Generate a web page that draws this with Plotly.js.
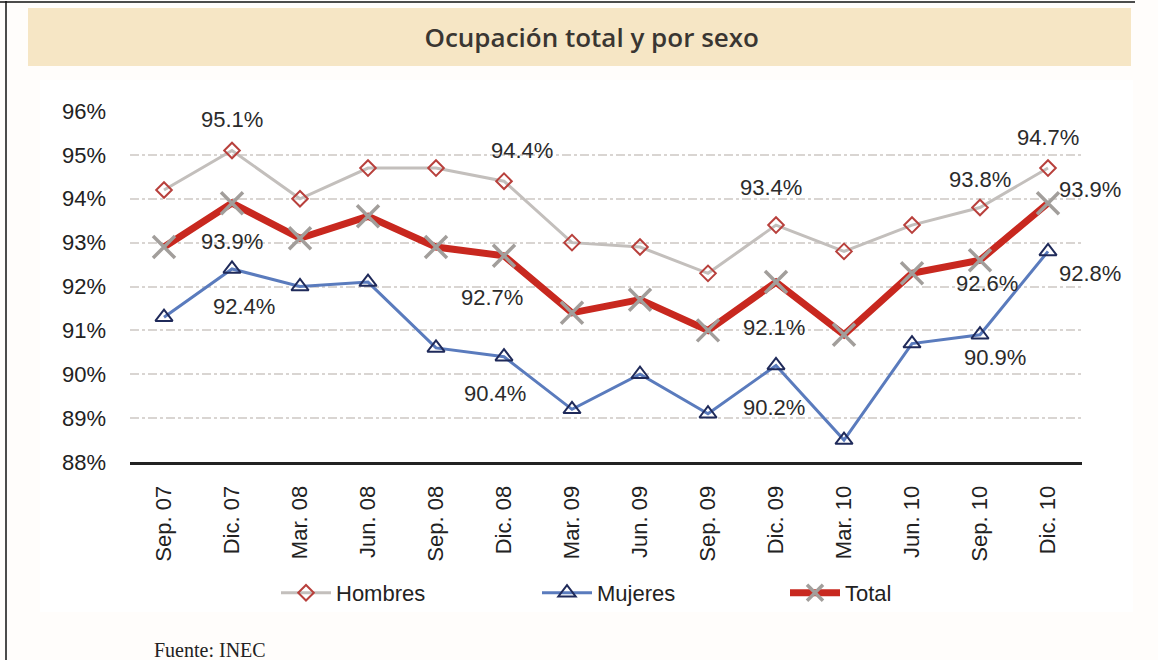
<!DOCTYPE html>
<html>
<head>
<meta charset="utf-8">
<script src="https://cdn.plot.ly/plotly-3.0.1.min.js"></script>
<style>
  html, body { margin: 0; padding: 0; background: #fffdfb; }
  #chart { width: 1158px; height: 660px; }
</style>
</head>
<body>
<div id="chart"></div>
<script>
// ---- data ----
const categories = ["Sep. 07", "Dic. 07", "Mar. 08", "Jun. 08", "Sep. 08", "Dic. 08", "Mar. 09",
                    "Jun. 09", "Sep. 09", "Dic. 09", "Mar. 10", "Jun. 10", "Sep. 10", "Dic. 10"];
const hombres = [94.2, 95.1, 94.0, 94.7, 94.7, 94.4, 93.0, 92.9, 92.3, 93.4, 92.8, 93.4, 93.8, 94.7];
const mujeres = [91.3, 92.4, 92.0, 92.1, 90.6, 90.4, 89.2, 90.0, 89.1, 90.2, 88.5, 90.7, 90.9, 92.8];
const total   = [92.9, 93.9, 93.1, 93.6, 92.9, 92.7, 91.4, 91.7, 91.0, 92.1, 90.9, 92.3, 92.6, 93.9];
const yTicks  = [88, 89, 90, 91, 92, 93, 94, 95, 96];
const yTickText = yTicks.map(v => v + "%");
const seriesNames = ["Hombres", "Mujeres", "Total"];
const titleText = "Ocupación total y por sexo";
const sourceText = "Fuente: INEC";

// which points carry a value label, and where the label sits (pixel offsets)
const labelSpecs = [
  {s: hombres, i: 1,  dx: 0,   dy: 31},
  {s: hombres, i: 5,  dx: 18,  dy: 31},
  {s: hombres, i: 9,  dx: -5,  dy: 38},
  {s: hombres, i: 12, dx: 0,   dy: 28},
  {s: hombres, i: 13, dx: 0,   dy: 31},
  {s: total,   i: 1,  dx: 0,   dy: -38},
  {s: total,   i: 5,  dx: -12, dy: -42},
  {s: total,   i: 9,  dx: -2,  dy: -45},
  {s: total,   i: 12, dx: 7,   dy: -23},
  {s: total,   i: 13, dx: 42,  dy: 14},
  {s: mujeres, i: 1,  dx: 12,  dy: -38},
  {s: mujeres, i: 5,  dx: -9,  dy: -37},
  {s: mujeres, i: 9,  dx: -2,  dy: -42},
  {s: mujeres, i: 12, dx: 15,  dy: -23},
  {s: mujeres, i: 13, dx: 42,  dy: -22}
];

const FONT = "Liberation Sans, Arial, sans-serif";

const traces = [
  {
    name: seriesNames[0], x: categories, y: hombres, type: "scatter", mode: "lines+markers",
    line: {color: "#c3bfbc", width: 3},
    marker: {symbol: "diamond-open", size: 12, color: "#b8403c", line: {width: 2, color: "#b8403c"}},
    cliponaxis: false, legend: "legend"
  },
  {
    name: seriesNames[1], x: categories, y: mujeres, type: "scatter", mode: "lines+markers",
    line: {color: "#5a7bbd", width: 3},
    marker: {symbol: "triangle-up-open", size: 15, color: "#1f2a5a", line: {width: 2, color: "#1f2a5a"}},
    cliponaxis: false, legend: "legend2"
  },
  {
    name: seriesNames[2], x: categories, y: total, type: "scatter", mode: "lines+markers",
    line: {color: "#c8281f", width: 7},
    marker: {symbol: "x-thin-open", size: 22, color: "#a29e9b", line: {width: 3.5, color: "#a29e9b"}},
    cliponaxis: false, legend: "legend3"
  }
];

const annotations = labelSpecs.map(l => ({
  x: categories[l.i], y: l.s[l.i], xref: "x", yref: "y",
  text: l.s[l.i].toFixed(1) + "%", showarrow: false,
  xshift: l.dx, yshift: l.dy, xanchor: "center", yanchor: "middle",
  font: {family: FONT, size: 22, color: "#2b2b2b"}
}));

annotations.push({
  xref: "paper", yref: "paper", x: 0.023, y: -0.535, xanchor: "left", yanchor: "middle",
  text: sourceText, showarrow: false,
  font: {family: "Liberation Serif, Times New Roman, serif", size: 20, color: "#222"}
});

function legendAt(xPix) {
  return {
    orientation: "h", x: (xPix - 130) / 952, xanchor: "left", y: -0.373, yanchor: "middle",
    font: {family: FONT, size: 22, color: "#222"},
    bgcolor: "rgba(0,0,0,0)", itemwidth: 50
  };
}

const layout = {
  width: 1158, height: 660,
  margin: {l: 130, r: 76, t: 111, b: 198},
  paper_bgcolor: "#fffdfb",
  plot_bgcolor: "rgba(0,0,0,0)",
  showlegend: true,
  hovermode: false,
  title: {
    text: titleText,
    x: 0.511, xanchor: "center", y: 1 - 38 / 660, yanchor: "middle",
    font: {family: "Open Sans, sans-serif", size: 26, weight: 600, color: "#3a3632"}
  },
  xaxis: {
    type: "category",
    range: [-0.5, categories.length - 0.5],
    showline: true, linecolor: "#222", linewidth: 3,
    showgrid: false, zeroline: false,
    tickangle: -90, ticks: "", ticklabelstandoff: 12,
    tickfont: {family: FONT, size: 22, color: "#222"}
  },
  yaxis: {
    range: [88, 96], tickmode: "array", tickvals: yTicks, ticktext: yTickText,
    showline: false, zeroline: false,
    showgrid: true, gridcolor: "#d9d5d2", gridwidth: 2, griddash: "dashdot",
    ticks: "", ticklabelstandoff: 23,
    tickfont: {family: FONT, size: 22, color: "#222"}
  },
  legend: legendAt(276),
  legend2: legendAt(537),
  legend3: legendAt(785),
  shapes: [
    // white panel behind chart
    {type: "rect", xref: "paper", yref: "paper", layer: "below",
     x0: (40 - 130) / 952, x1: (1133 - 130) / 952, y0: (462 - 612) / 351, y1: (462 - 80) / 351,
     fillcolor: "#ffffff", line: {width: 0}},
    // title banner
    {type: "rect", xref: "paper", yref: "paper", layer: "below",
     x0: (28 - 130) / 952, x1: (1131 - 130) / 952, y0: (462 - 66) / 351, y1: (462 - 8) / 351,
     fillcolor: "#f6e6c5", line: {width: 0}},
    // frame lines
    {type: "line", xref: "paper", yref: "paper",
     x0: -130 / 952, x1: (1135 - 130) / 952, y0: (462 - 2) / 351, y1: (462 - 2) / 351,
     line: {color: "#111", width: 1.5}},
    {type: "line", xref: "paper", yref: "paper",
     x0: (6 - 130) / 952, x1: (6 - 130) / 952, y0: (462 - 1) / 351, y1: (462 - 660) / 351,
     line: {color: "#111", width: 1.5}}
  ],
  annotations: annotations
};

Plotly.newPlot("chart", traces, layout, {displayModeBar: false, staticPlot: true});
</script>
</body>
</html>
